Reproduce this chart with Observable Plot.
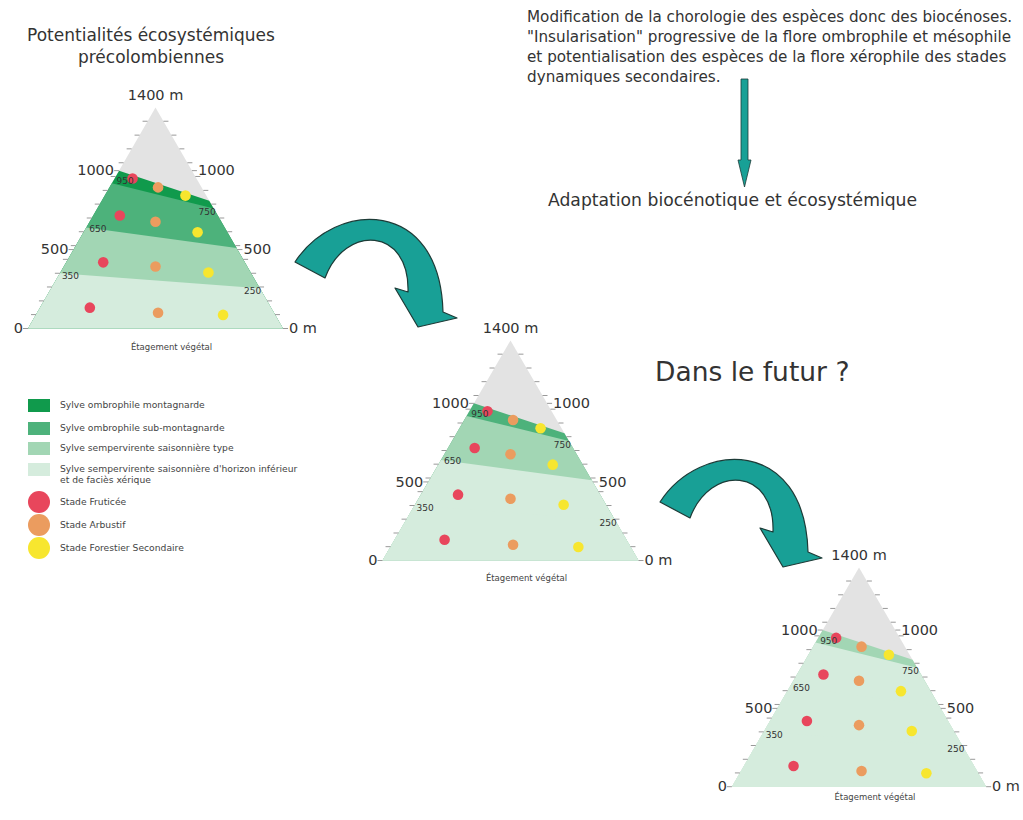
<!DOCTYPE html>
<html><head><meta charset="utf-8">
<script src="https://cdn.jsdelivr.net/npm/d3@7"></script>
<script src="https://cdn.jsdelivr.net/npm/@observablehq/plot@0.6"></script>
<style>
body{margin:0;background:#fff;font-family:"DejaVu Sans",Verdana,sans-serif;color:#333}
#page{position:relative;width:1023px;height:820px;overflow:hidden;background:#fff}
.abs{position:absolute;white-space:nowrap}
.panel{position:absolute}
.lg{position:absolute;font-size:9.2px;color:#444;line-height:11px;white-space:nowrap}
</style></head><body><div id="page"></div>
<script>
// ---------- data ----------
const summit = 1400;
const boundaryLeft = [1000, 920, 640, 350];
const boundaryRight = [810, 760, 510, 255];
const bandNames = ["Sylve ombrophile montagnarde", "Sylve ombrophile sub-montagnarde", "Sylve sempervirente saisonnière type", "Sylve sempervirente saisonnière d'horizon inférieur\net de faciès xérique"];
const bandColors = ["#109a4c", "#4db27b", "#a2d6b4", "#d5ecdd"];
const summitColor = "#e3e3e3";
const scenarioBands = [[0, 1, 2, 3], [1, 2, 3, 3], [2, 3, 3, 3]];
const stageNames = ["Stade Fruticée", "Stade Arbustif", "Stade Forestier Secondaire"];
const stageColors = ["#e8465c", "#eb9c5f", "#f7e62f"];
const pointStage = [0, 1, 2, 0, 1, 2, 0, 1, 2, 0, 1, 2];
const pointPos = [-0.18, 0.02, 0.235, -0.28, 0, 0.33, -0.41, 0, 0.415, -0.515, 0.02, 0.53];
const pointElev = [950, 894, 842, 716, 676, 610, 419, 393, 355, 132, 100, 86];
const edgeTicks = [0, 88, 175, 263, 350, 438, 500, 525, 613, 700, 788, 875, 963, 1000, 1050, 1138, 1225, 1313];
const edgeLabelValues = [0, 500, 1000];
const leftLabels = ["0", "500", "1000"];
const rightLabels = ["0 m", "500", "1000"];
const summitLabel = "1400 m";
const leftInner = [950, 650, 350];
const rightInner = [750, 250];
const axisTitle = "Étagement végétal";

// ---------- layout (pixels) ----------
const panels = [
  {cx: 155, apexY: 107, baseY: 328, hw: 127.5, cap: 19},
  {cx: 510, apexY: 340, baseY: 560, hw: 128, cap: 18},
  {cx: 859, apexY: 567, baseY: 787, hw: 127.5, cap: 11}
];

const leftX = e => -(1 - e / summit);
const rightX = e => 1 - e / summit;
const page = document.getElementById("page");

panels.forEach((p, pi) => {
  const left = p.cx - 155, top = p.apexY - 35, W = 320, H = (p.baseY - p.apexY) + 35 + 30;
  const k = summit / (p.baseY - p.apexY);
  const xd = [(left - p.cx) / p.hw, (left + W - p.cx) / p.hw];
  const yd = [(p.baseY - (top + H)) * k, (p.baseY - top) * k];
  const tk = 5 / p.hw;

  const marks = [];
  marks.push(Plot.line([[0, summit], [1, 0], [-1, 0], [0, summit]], {x: d => d[0], y: d => d[1], fill: summitColor, stroke: "none"}));
  boundaryLeft.forEach((L, i) => {
    const R = boundaryRight[i];
    const poly = [[leftX(L), L], [rightX(R), R], [1, 0], [-1, 0]];
    marks.push(Plot.line(poly, {x: d => d[0], y: d => d[1], fill: bandColors[scenarioBands[pi][i]], stroke: "none"}));
  });
  // edge ticks
  marks.push(Plot.link(edgeTicks, {x1: e => leftX(e), x2: e => leftX(e) - tk, y1: e => e, y2: e => e, stroke: "#999", strokeWidth: 1}));
  marks.push(Plot.link(edgeTicks, {x1: e => rightX(e), x2: e => rightX(e) + tk, y1: e => e, y2: e => e, stroke: "#999", strokeWidth: 1}));
  // points
  const pts = pointPos.map((u, i) => ({u, e: pointElev[i], s: pointStage[i]}));
  marks.push(Plot.dot(pts, {x: "u", y: "e", r: 5.3, fill: d => stageColors[d.s], stroke: "none"}));
  // labels
  marks.push(Plot.text(edgeLabelValues, {x: e => leftX(e), y: e => e, text: (e, i) => leftLabels[i], textAnchor: "end", dx: -5, fontSize: 14.5, fill: "#333"}));
  marks.push(Plot.text(edgeLabelValues, {x: e => rightX(e), y: e => e, text: (e, i) => rightLabels[i], textAnchor: "start", dx: 6, fontSize: 14.5, fill: "#333"}));
  marks.push(Plot.text([summit], {x: 0, y: e => e, text: () => summitLabel, dy: -12, fontSize: 14.5, fill: "#333"}));
  marks.push(Plot.text(leftInner, {x: e => leftX(e), y: e => e, text: e => String(e), textAnchor: "start", dx: 2, dy: 3, fontSize: 9, fill: "#333"}));
  marks.push(Plot.text(rightInner, {x: e => rightX(e), y: e => e, text: e => String(e), textAnchor: "end", dx: 1, dy: 2, fontSize: 9, fill: "#333"}));
  marks.push(Plot.text([0], {x: 0, y: 0, text: () => axisTitle, dx: 16, dy: p.cap, fontSize: 8.5, fill: "#444"}));

  const chart = Plot.plot({
    width: W, height: H, margin: 0,
    x: {domain: xd, axis: null},
    y: {domain: yd, axis: null},
    style: {background: "transparent", overflow: "visible", fontFamily: "DejaVu Sans, sans-serif"},
    marks
  });
  const div = document.createElement("div");
  div.className = "panel";
  div.style.left = left + "px"; div.style.top = top + "px";
  div.appendChild(chart);
  page.appendChild(div);
});

// ---------- arrows (decoration) ----------
const ns = "http://www.w3.org/2000/svg";
const ov = document.createElementNS(ns, "svg");
ov.setAttribute("width", 1023); ov.setAttribute("height", 820);
ov.style.position = "absolute"; ov.style.left = "0"; ov.style.top = "0"; ov.style.pointerEvents = "none";
const curved = "M0,0 C40,-62 145,-65 148,50 L162,56 L123,65 L100,26 L113,30 C115,-35 50,-38 30,16 Z";
[[295, 262], [660, 502]].forEach(([tx, ty]) => {
  const path = document.createElementNS(ns, "path");
  path.setAttribute("d", curved);
  path.setAttribute("transform", `translate(${tx},${ty})`);
  path.setAttribute("fill", "#18a096"); path.setAttribute("stroke", "#1d3b37"); path.setAttribute("stroke-width", "1.2");
  path.setAttribute("stroke-linejoin", "round");
  ov.appendChild(path);
});
const va = document.createElementNS(ns, "path");
va.setAttribute("d", "M741,79 L748,79 L748,160 L751,160 L744.5,187 L738,160 L741,160 Z");
va.setAttribute("fill", "#18a096"); va.setAttribute("stroke", "#1d3b37"); va.setAttribute("stroke-width", "0.8");
ov.appendChild(va);
page.appendChild(ov);

// ---------- texts ----------
function addText(html, css) {
  const d = document.createElement("div");
  d.className = "abs";
  d.innerHTML = html;
  Object.assign(d.style, css);
  page.appendChild(d);
  return d;
}
addText("Potentialités écosystémiques<br>précolombiennes", {left: "0px", top: "24px", width: "302px", textAlign: "center", fontSize: "17px", lineHeight: "22px", color: "#333"});
addText("Modification de la chorologie des espèces donc des biocénoses.<br>\"Insularisation\" progressive de la flore ombrophile et mésophile<br>et potentialisation des espèces de la flore xérophile des stades<br>dynamiques secondaires.", {left: "527px", top: "7px", fontSize: "15.2px", lineHeight: "20px", color: "#333"});
addText("Adaptation biocénotique et écosystémique", {left: "548px", top: "189px", fontSize: "17.2px", lineHeight: "22px", color: "#333"});
addText("Dans le futur ?", {left: "655px", top: "355px", fontSize: "26.5px", lineHeight: "34px", color: "#333"});

// ---------- legend ----------
const sqY = [405, 428, 448, 469];
bandNames.forEach((n, i) => {
  const sq = document.createElement("div");
  Object.assign(sq.style, {position: "absolute", left: "28px", top: (sqY[i] - 6.5) + "px", width: "22px", height: "13px", background: bandColors[i]});
  page.appendChild(sq);
  const t = document.createElement("div");
  t.className = "lg";
  const lines = n.split("\n");
  t.innerHTML = lines.join("<br>");
  t.style.left = "60px";
  t.style.top = (sqY[i] - 6) + "px";
  page.appendChild(t);
});
const ciY = [502, 525, 548];
stageNames.forEach((n, i) => {
  const c = document.createElement("div");
  Object.assign(c.style, {position: "absolute", left: "28px", top: (ciY[i] - 11) + "px", width: "22px", height: "22px", borderRadius: "50%", background: stageColors[i]});
  page.appendChild(c);
  const t = document.createElement("div");
  t.className = "lg";
  t.textContent = n;
  t.style.left = "60px"; t.style.top = (ciY[i] - 6) + "px";
  page.appendChild(t);
});
</script></body></html>
